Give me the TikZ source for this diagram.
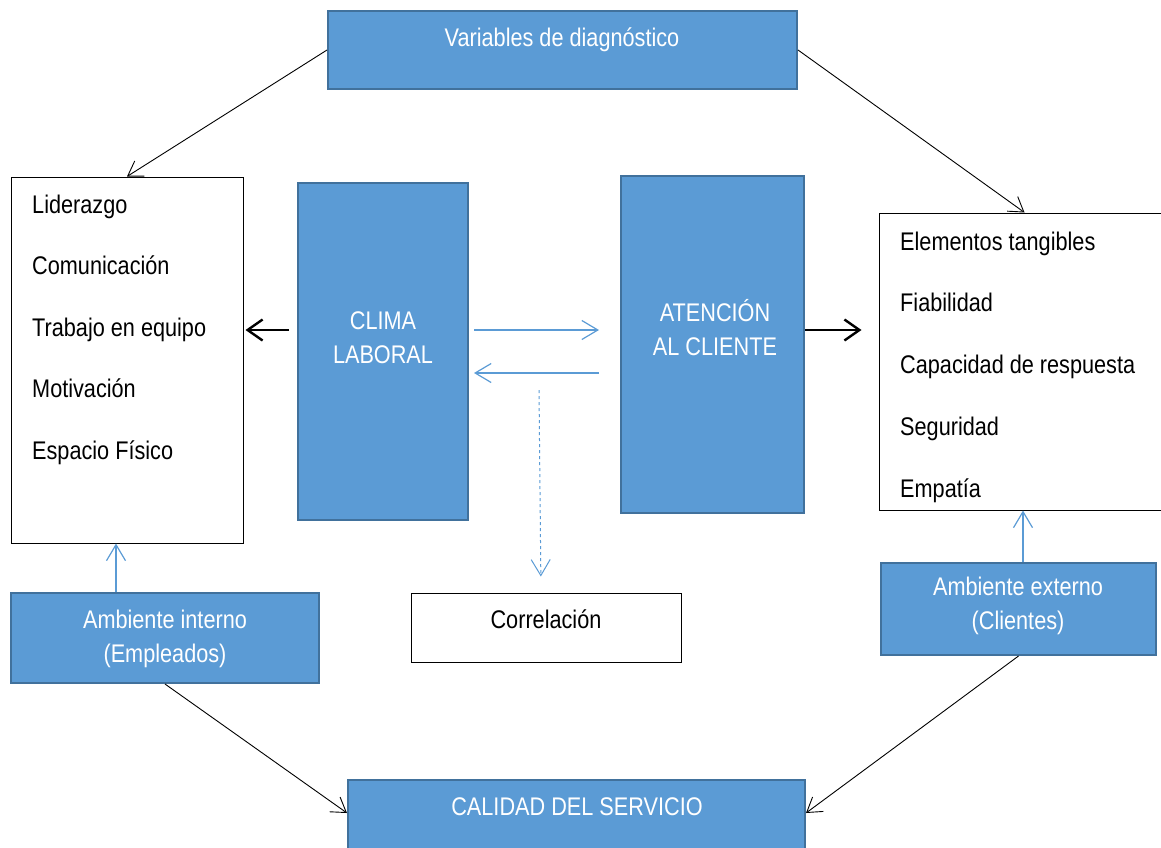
\documentclass[tikz,border=0pt]{standalone}
\usepackage{fontspec}
\setmainfont{Liberation Sans}[FakeStretch=0.85]
\usetikzlibrary{arrows.meta}
\definecolor{cajaazul}{HTML}{5B9BD5}
\definecolor{bordeazul}{HTML}{41719C}
\begin{document}
\begin{tikzpicture}[
    x=1pt, y=-1pt,   % coordonnées en pixels, y vers le bas
    every node/.style={font=\fontsize{25.5}{34}\selectfont},
    % Boîtes
    bluebox/.style={draw=bordeazul, line width=2pt, fill=cajaazul, inner sep=0pt},
    listbox/.style={draw=black, line width=1pt, fill=white, inner sep=0pt},
    whitetext/.style={text=white, align=center, inner sep=0pt},
    itemtext/.style={text=black, inner sep=0pt, anchor=base west},
    % Flèches
    thinarrow/.style={draw=black, line width=0.9pt, -{Straight Barb[length=14pt, width=18pt]}},
    thickarrow/.style={draw=black, line width=2.4pt, -{Straight Barb[length=15pt, width=21pt]}},
    bluearrow/.style={draw=cajaazul, line width=1.2pt, -{Straight Barb[length=16pt, width=19pt]}}
]
\useasboundingbox (0,0) rectangle (1161,847);
% Boîtes principales
\node[bluebox, minimum width=469, minimum height=78] (diag) at (562.5,50) {};
\node[whitetext] (diag-txt) at (562,40) {Variables de diagnóstico};
\node[listbox, minimum width=232, minimum height=366] (factores) at (127,360) {};
\node[bluebox, minimum width=170, minimum height=337] (clima) at (383,351.5) {};
\node[whitetext] (clima-txt) at (383,338) {CLIMA\\LABORAL};
\node[bluebox, minimum width=183, minimum height=337] (atencion) at (712.5,344.5) {};
\node[whitetext] (atencion-txt) at (715,328) {ATENCIÓN\\AL CLIENTE};
\node[listbox, minimum width=291, minimum height=297] (servicio) at (1024.5,361.5) {};
\node[listbox, minimum width=270, minimum height=69] (correlacion) at (546,627.5) {};
\node[text=black, inner sep=0pt] (correlacion-txt) at (546,619) {Correlación};
\node[bluebox, minimum width=308, minimum height=90] (interno) at (165,638) {};
\node[whitetext] (interno-txt) at (165,638.5) {Ambiente interno\\(Empleados)};
\node[bluebox, minimum width=275, minimum height=92] (externo) at (1018.5,609) {};
\node[whitetext] (externo-txt) at (1018,606) {Ambiente externo\\(Clientes)};
\node[bluebox, minimum width=457, minimum height=80] (calidad) at (576.5,820) {};
\node[whitetext] (calidad-txt) at (577,807) {CALIDAD DEL SERVICIO};
% Listes
\foreach \item [count=\i] in {Liderazgo, Comunicación, Trabajo en equipo, Motivación, Espacio Físico}
    \node[itemtext] (lid-\i) at (32,{213+61.5*(\i-1)}) {\item};
\foreach \item [count=\i] in {Elementos tangibles, Fiabilidad, Capacidad de respuesta, Seguridad, Empatía}
    \node[itemtext] (serv-\i) at (900,{250+61.75*(\i-1)}) {\item};
% Flèches
\draw[thinarrow] (diag.west) -- (factores.north);
\draw[thinarrow] (diag.east) -- (servicio.north);
\draw[thickarrow, shorten <=8pt, shorten >=2pt] ([yshift=21.5pt]clima.west) -- ([yshift=21.5pt]clima.west -| factores.east);
\draw[thickarrow, shorten >=17pt] ([yshift=14.5pt]atencion.east) -- ([yshift=14.5pt]atencion.east -| servicio.west);
\draw[bluearrow, shorten <=5pt, shorten >=21pt] ([yshift=21.5pt]clima.east) -- ([yshift=21.5pt]clima.east -| atencion.west);
\draw[bluearrow, shorten <=21pt, shorten >=5pt] ([yshift=-21.5pt]clima.east -| atencion.west) -- ([yshift=-21.5pt]clima.east);
\coordinate (corr-top) at (539,390);
\draw[bluearrow, dashed, line width=1pt, shorten >=16pt] (corr-top) -- ([xshift=-5pt]correlacion.north);
\draw[bluearrow] ([xshift=-49pt]interno.north) -- ([xshift=-49pt]interno.north |- factores.south);
\draw[bluearrow] ([xshift=4.5pt]externo.north) -- ([xshift=4.5pt]externo.north |- servicio.south);
\draw[thinarrow] (interno.south) -- ([yshift=7pt]calidad.west);
\draw[thinarrow] (externo.south) -- ([yshift=7pt]calidad.east);
\end{tikzpicture}
\end{document}
